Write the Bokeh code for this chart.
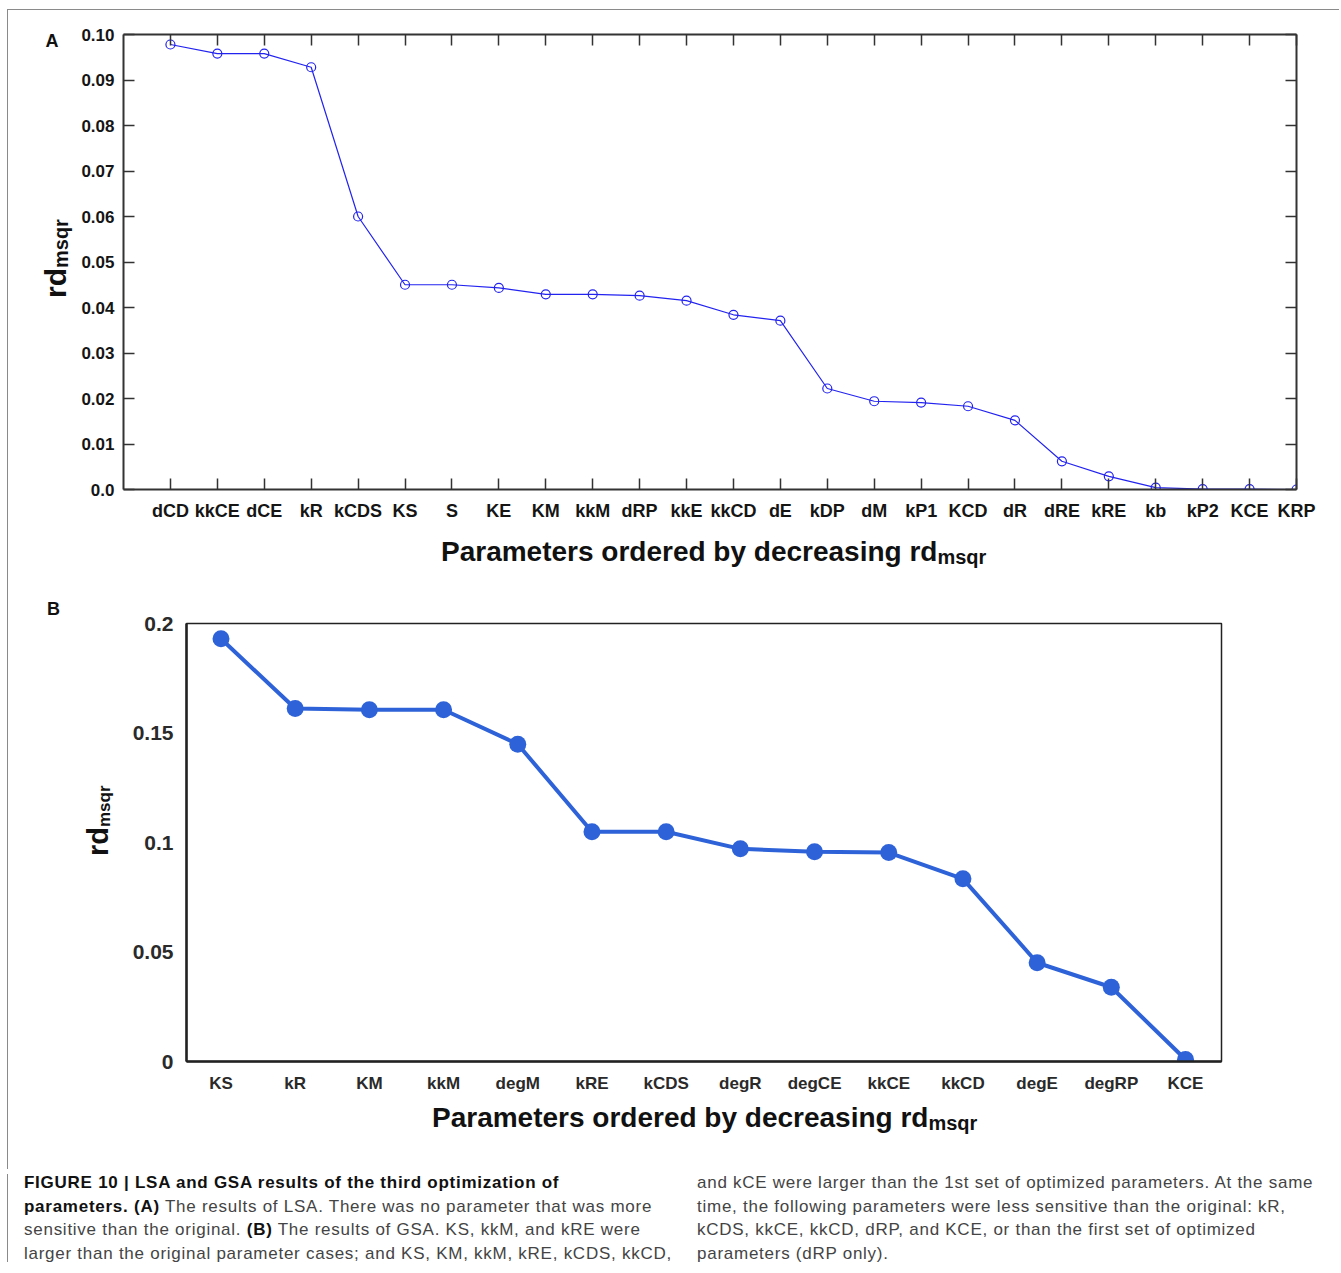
from bokeh.plotting import figure
from bokeh.models import Range1d, FixedTicker, LinearAxis, Div, NumeralTickFormatter
from bokeh.embed import file_html
from bokeh.resources import INLINE

# ---------------- data ----------------
# Panel A : LSA
lsa_params = ["dCD", "kkCE", "dCE", "kR", "kCDS", "KS", "S", "KE", "KM", "kkM", "dRP", "kkE",
              "kkCD", "dE", "kDP", "dM", "kP1", "KCD", "dR", "dRE", "kRE", "kb", "kP2", "KCE", "KRP"]
lsa_values = [0.0978, 0.0958, 0.0958, 0.0928, 0.0600, 0.0450, 0.0450, 0.0443, 0.0429, 0.0429,
              0.0426, 0.0415, 0.0384, 0.0371, 0.0222, 0.0194, 0.0191, 0.0183, 0.0152, 0.0062,
              0.0029, 0.0004, 0.0001, 0.0001, 0.0000]
lsa_yticks = [0.0, 0.01, 0.02, 0.03, 0.04, 0.05, 0.06, 0.07, 0.08, 0.09, 0.10]
lsa_ytick_labels = ["0.0", "0.01", "0.02", "0.03", "0.04", "0.05", "0.06", "0.07", "0.08", "0.09", "0.10"]

# Panel B : GSA
gsa_params = ["KS", "kR", "KM", "kkM", "degM", "kRE", "kCDS", "degR", "degCE", "kkCE", "kkCD",
              "degE", "degRP", "KCE"]
gsa_values = [0.1930, 0.1612, 0.1606, 0.1606, 0.1449, 0.1049, 0.1049, 0.0971, 0.0958, 0.0954,
              0.0834, 0.0451, 0.0339, 0.0009]
gsa_yticks = [0.0, 0.05, 0.1, 0.15, 0.2]
gsa_ytick_labels = ["0", "0.05", "0.1", "0.15", "0.2"]

x_title = "Parameters ordered by decreasing rd"
y_title = "rd"
sub = "msqr"

cap_left = [
    "<b style='color:#111'>FIGURE 10 | LSA and GSA results of the third optimization of</b>",
    "<b style='color:#111'>parameters. (A)</b> The results of LSA. There was no parameter that was more",
    "sensitive than the original. <b style='color:#111'>(B)</b> The results of GSA. KS, kkM, and kRE were",
    "larger than the original parameter cases; and KS, KM, kkM, kRE, kCDS, kkCD,",
]
cap_right = [
    "and kCE were larger than the 1st set of optimized parameters. At the same",
    "time, the following parameters were less sensitive than the original: kR,",
    "kCDS, kkCE, kkCD, dRP, and KCE, or than the first set of optimized",
    "parameters (dRP only).",
]

FONT = "Liberation Sans"
W = 1332
OX = 8          # page x of content left edge
A_TOP = 10      # page y of panel A canvas
HA = 580
B_TOP = A_TOP + HA
HB = 580
C_TOP = B_TOP + HB + 4   # effective page y of the caption box origin

BORDER = "1px solid #8a8a8a"


def style_axis(ax, show_labels, size, tin, standoff):
    ax.major_tick_in = tin
    ax.major_tick_out = 0
    ax.minor_tick_line_color = None
    ax.axis_line_color = "#333333"
    ax.axis_line_width = 2
    ax.major_tick_line_color = "#333333"
    ax.major_tick_line_width = 1.5
    ax.major_label_text_font = FONT
    ax.major_label_text_font_style = "bold"
    if show_labels:
        ax.major_label_text_color = "#151515"
        ax.major_label_text_font_size = size
        ax.major_label_standoff = standoff
    else:
        ax.major_label_text_color = None
        ax.major_label_text_font_size = "1px"
        ax.major_label_standoff = 0


# ---------------- panel A ----------------
xa = list(range(1, len(lsa_params) + 1))
pa = figure(width=W, height=HA, output_backend="svg", toolbar_location=None,
            x_range=Range1d(0, len(lsa_params)), y_range=Range1d(0, 0.10),
            min_border_left=115, min_border_right=W - 1173 - 115, min_border_top=24, min_border_bottom=101,
            x_axis_location=None, y_axis_location=None,
            styles={"margin-left": "7px", "margin-top": "9px",
                    "border-left": BORDER, "border-top": BORDER})
pa.grid.visible = False
pa.outline_line_color = None
pa.background_fill_color = "white"
pa.border_fill_color = "white"

xover_a = {x: n for x, n in zip(xa, lsa_params)}
yover_a = {t: l for t, l in zip(lsa_yticks, lsa_ytick_labels)}

bx = LinearAxis(ticker=FixedTicker(ticks=xa), major_label_overrides=xover_a)
style_axis(bx, True, "18px", 11, 11)
pa.add_layout(bx, "below")
tx = LinearAxis(ticker=FixedTicker(ticks=xa))
style_axis(tx, False, "18px", 11, 0)
pa.add_layout(tx, "above")
ly = LinearAxis(ticker=FixedTicker(ticks=lsa_yticks), formatter=NumeralTickFormatter(format="0.00"),
                major_label_overrides=yover_a)
style_axis(ly, True, "17px", 11, 9)
pa.add_layout(ly, "left")
ry = LinearAxis(ticker=FixedTicker(ticks=lsa_yticks))
style_axis(ry, False, "17px", 11, 0)
pa.add_layout(ry, "right")

pa.line(xa, lsa_values, line_color="#2323f0", line_width=1.2)
pa.scatter(xa, lsa_values, marker="circle", size=9, line_color="#2323f0", line_width=1.2, fill_color=None)

# ---------------- panel B ----------------
xb = list(range(1, len(gsa_params) + 1))
pb = figure(width=W, height=HB, output_backend="svg", toolbar_location=None,
            x_range=Range1d(0.535, 14.485), y_range=Range1d(0, 0.2),
            min_border_left=178, min_border_right=W - 1035 - 178, min_border_top=34, min_border_bottom=108,
            x_axis_location=None, y_axis_location=None,
            styles={"margin-left": "7px", "border-left": BORDER})
pb.grid.visible = False
pb.outline_line_color = "#222222"
pb.outline_line_width = 1.5
pb.background_fill_color = "white"
pb.border_fill_color = "white"

xover_b = {x: n for x, n in zip(xb, gsa_params)}
yover_b = {t: l for t, l in zip(gsa_yticks, gsa_ytick_labels)}

bxb = LinearAxis(ticker=FixedTicker(ticks=xb), major_label_overrides=xover_b)
style_axis(bxb, True, "17px", 0, 12)
bxb.major_label_text_color = "#2a2a2a"
bxb.axis_line_color = "#222222"
bxb.axis_line_width = 2.5
pb.add_layout(bxb, "below")
lyb = LinearAxis(ticker=FixedTicker(ticks=gsa_yticks), formatter=NumeralTickFormatter(format="0.[00]"),
                 major_label_overrides=yover_b)
style_axis(lyb, True, "21px", 0, 13)
lyb.major_label_text_color = "#2a2a2a"
lyb.axis_line_color = "#222222"
lyb.axis_line_width = 2.5
pb.add_layout(lyb, "left")

pb.line(xb, gsa_values, line_color="#2d62d8", line_width=4)
pb.scatter(xb, gsa_values, marker="circle", size=17, line_color=None, fill_color="#2d62d8")

# ---------------- texts outside the plot frames + caption (HTML) ----------------
ASC = 0.8465  # baseline offset (em) for line-height:1 with Liberation Sans


def span(px, py_base, html, size, rotate=False):
    """Absolutely placed text; (px, py_base) = page position of start of the baseline."""
    base = ("position:absolute;white-space:nowrap;line-height:1;font-family:'%s';"
            "font-weight:bold;color:#111111;font-size:%dpx;" % (FONT, size))
    if not rotate:
        left = px - OX
        top = py_base - ASC * size - C_TOP
        return '<div style="%sleft:%.1fpx;top:%.1fpx;">%s</div>' % (base, left, top, html)
    # rotated 90deg counter-clockwise; px = x of the baseline, py_base = where the text starts (bottom)
    left = px - ASC * size - OX
    top = py_base - C_TOP
    return ('<div style="%sleft:%.1fpx;top:%.1fpx;transform-origin:0 0;transform:rotate(-90deg);">%s</div>'
            % (base, left, top, html))


def with_sub(main, s, sub_size, drop):
    return '%s<span style="font-size:%dpx;vertical-align:-%dpx;">%s</span>' % (main, sub_size, drop, s)


overlay = [
    span(45.5, 47.5, "A", 18),
    span(66, 298, with_sub(y_title, sub, 20, 2), 30, rotate=True),
    span(441, 561.5, with_sub(x_title, sub, 20, 3), 28),
    span(47, 615.5, "B", 18),
    span(108, 856, with_sub(y_title, sub, 17, 2), 29, rotate=True),
    span(432, 1128, with_sub(x_title, sub, 20, 3), 28),
]

box = ("position:absolute;top:-3px;white-space:nowrap;font-family:'%s';"
       "font-size:17px;letter-spacing:0.74px;line-height:23.6px;color:#444444;" % FONT)
html = ('<div style="position:relative;width:%dpx;height:88px;">' % W +
        "".join(overlay) +
        '<div style="%sleft:%dpx;">%s</div>' % (box, 24 - OX, "<br>".join(cap_left)) +
        '<div style="%sleft:%dpx;">%s</div>' % (box, 697 - OX, "<br>".join(cap_right)) +
        '</div>')
caption = Div(text=html, width=W, height=88,
              styles={"margin-left": "7px", "border-left": BORDER})

open("out.html", "w").write(file_html([pa, pb, caption], INLINE))
